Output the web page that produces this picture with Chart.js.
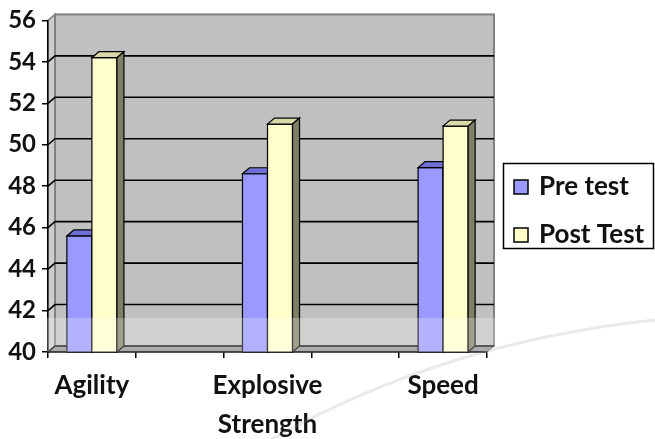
<!DOCTYPE html>
<html>
<head>
<meta charset="utf-8">
<script src="https://cdn.jsdelivr.net/npm/chart.js@4/dist/chart.umd.min.js"></script>
<style>
  html, body { margin: 0; padding: 0; background: #fff; }
  #wrap { width: 655px; height: 439px; position: relative; }
</style>
</head>
<body>
<div id="wrap"><canvas id="c" width="655" height="439"></canvas></div>
<script>
// Test results per component (empty slots keep the gaps between groups)
const categories = ['Agility', '', ['Explosive', 'Strength'], '', 'Speed'];
const preTest = [45.6, null, 48.6, null, 48.9];
const postTest = [54.2, null, 51.0, null, 50.9];
const seriesNames = ['Pre test', 'Post Test'];
const yTicks = [40, 42, 44, 46, 48, 50, 52, 54, 56];

const FONT = 'Lato, "Liberation Sans", sans-serif';
const DX = 7, DY = -6; // depth offset of the 3D walls and columns

function poly(ctx, pts, fill, stroke, lw) {
  ctx.beginPath();
  ctx.moveTo(pts[0][0], pts[0][1]);
  for (let i = 1; i < pts.length; i++) ctx.lineTo(pts[i][0], pts[i][1]);
  ctx.closePath();
  if (fill) { ctx.fillStyle = fill; ctx.fill(); }
  if (stroke) { ctx.strokeStyle = stroke; ctx.lineWidth = lw || 1; ctx.stroke(); }
}

const depthPlugin = {
  id: 'depth',
  beforeDraw(chart) {
    const { ctx, chartArea: a, scales: { y } } = chart;
    ctx.save();
    // floor
    poly(ctx, [[a.left, a.bottom], [a.right, a.bottom], [a.right + DX, a.bottom + DY], [a.left + DX, a.bottom + DY]], '#8f8f8f', '#5a5a5a', 1);
    // left side wall
    poly(ctx, [[a.left, a.top], [a.left + DX, a.top + DY], [a.left + DX, a.bottom + DY], [a.left, a.bottom]], '#cdcdcd', '#808080', 1.5);
    // back wall
    ctx.fillStyle = '#c0c0c0';
    ctx.fillRect(a.left + DX, a.top + DY, a.right - a.left, a.bottom - a.top);
    ctx.strokeStyle = '#808080';
    ctx.lineWidth = 2;
    ctx.strokeRect(a.left + DX, a.top + DY, a.right - a.left, a.bottom - a.top);
    // gridlines running along the side wall and back wall
    ctx.strokeStyle = '#000';
    ctx.lineWidth = 1.6;
    yTicks.forEach(v => {
      if (v === y.max) return;
      const py = y.getPixelForValue(v);
      ctx.beginPath();
      ctx.moveTo(a.left, py);
      ctx.lineTo(a.left + DX, py + DY);
      ctx.lineTo(a.right + DX, py + DY);
      ctx.stroke();
    });
    ctx.restore();
  },
  afterDatasetsDraw(chart) {
    const { ctx, chartArea: a } = chart;
    ctx.save();
    const n = chart.data.labels.length;
    for (let j = 0; j < n; j++) {
      chart.data.datasets.forEach((ds, i) => {
        if (ds.data[j] == null) return;
        const el = chart.getDatasetMeta(i).data[j];
        const { x, y, width, base } = el.getProps(['x', 'y', 'width', 'base'], true);
        const l = x - width / 2, r = x + width / 2, b = Math.min(base, a.bottom);
        // front face
        poly(ctx, [[l, y], [r, y], [r, b], [l, b]], ds.backgroundColor, '#000', 1.2);
        // top face
        poly(ctx, [[l, y], [r, y], [r + DX, y + DY], [l + DX, y + DY]], ds.topColor, '#000', 1.2);
        // side face
        poly(ctx, [[r, y], [r + DX, y + DY], [r + DX, b + DY], [r, b]], ds.sideColor, '#000', 1.2);
      });
    }
    // pale band over the lower part of the plot
    ctx.fillStyle = 'rgba(255,255,255,0.25)';
    ctx.fillRect(a.left - 1, 318, a.right + DX - a.left + 2, a.bottom - 318);
    ctx.restore();
  },
  afterDraw(chart) {
    const { ctx } = chart;
    ctx.save();
    // faint sweeping arc across the lower right
    ctx.strokeStyle = 'rgba(150,150,150,0.2)';
    ctx.lineWidth = 3;
    ctx.beginPath();
    ctx.moveTo(272, 439);
    ctx.quadraticCurveTo(445, 342, 655, 320);
    ctx.stroke();

    // legend
    ctx.fillStyle = '#fff';
    ctx.fillRect(503.5, 163.5, 150, 85);
    ctx.strokeStyle = '#000';
    ctx.lineWidth = 1.5;
    ctx.strokeRect(503.5, 163.5, 150, 85);
    const rows = [187, 235];
    chart.data.datasets.forEach((ds, i) => {
      const cy = rows[i];
      ctx.fillStyle = ds.backgroundColor;
      ctx.fillRect(514, cy - 7, 14, 14);
      ctx.strokeStyle = '#000';
      ctx.lineWidth = 1.5;
      ctx.strokeRect(514, cy - 7, 14, 14);
      ctx.fillStyle = '#111';
      ctx.font = 'bold 26px ' + FONT;
      ctx.textAlign = 'left';
      ctx.textBaseline = 'middle';
      ctx.fillText(ds.label, 539, cy);
    });
    ctx.restore();
  }
};

new Chart(document.getElementById('c'), {
  type: 'bar',
  data: {
    labels: categories,
    datasets: [
      { label: seriesNames[0], data: preTest, backgroundColor: '#9999ff', topColor: '#6f6fd6', sideColor: '#5c5cb0',
        borderColor: '#000', borderWidth: 1, categoryPercentage: 0.57, barPercentage: 1 },
      { label: seriesNames[1], data: postTest, backgroundColor: '#ffffcc', topColor: '#d8d8a8', sideColor: '#7f7f66',
        borderColor: '#000', borderWidth: 1, categoryPercentage: 0.57, barPercentage: 1 }
    ]
  },
  options: {
    responsive: false,
    devicePixelRatio: 1,
    animation: false,
    layout: { padding: { top: 20, right: 168, bottom: 0, left: 0 } },
    plugins: { legend: { display: false }, tooltip: { enabled: false } },
    scales: {
      y: {
        min: 40, max: 56,
        afterBuildTicks: s => { s.ticks = yTicks.map(v => ({ value: v })); },
        afterFit: s => { s.width = 48; },
        grid: { drawOnChartArea: false, drawTicks: true, tickLength: 6, color: '#000', lineWidth: 1.5 },
        border: { display: true, color: '#000', width: 1.5 },
        ticks: { color: '#111', padding: 6, font: { family: FONT, size: 24, weight: 'bold' } }
      },
      x: {
        afterFit: s => { s.height = 87; },
        grid: { drawOnChartArea: false, drawTicks: true, tickLength: 6, color: '#000', lineWidth: 1.5, offset: true },
        border: { display: true, color: '#000', width: 1.5 },
        ticks: { color: '#111', padding: 8, maxRotation: 0, autoSkip: false,
                 font: { family: FONT, size: 26, weight: 'bold', lineHeight: 1.5 } }
      }
    }
  },
  plugins: [depthPlugin]
});
</script>
</body>
</html>
